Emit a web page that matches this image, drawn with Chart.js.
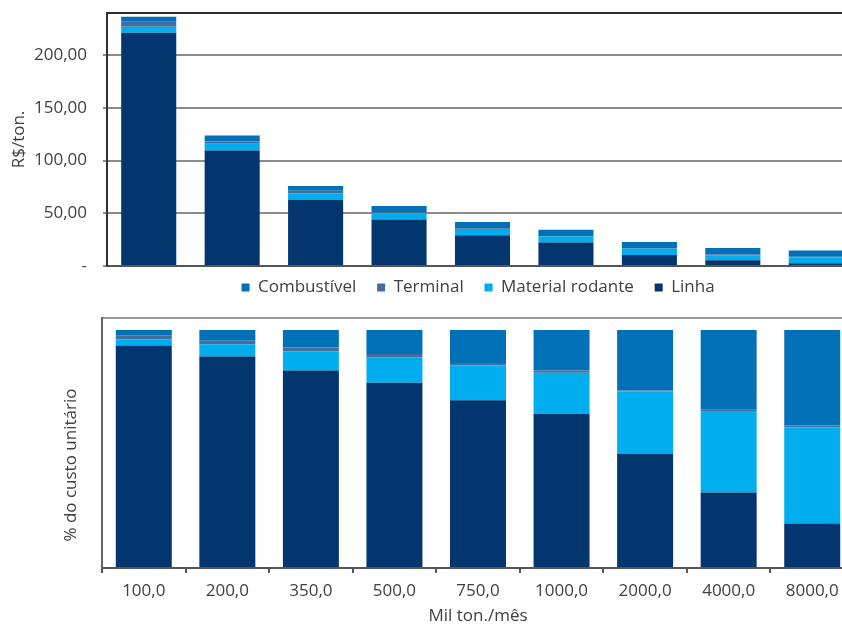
<!DOCTYPE html>
<html>
<head>
<meta charset="utf-8">
<script src="https://cdn.jsdelivr.net/npm/chart.js@4.4.1/dist/chart.umd.min.js"></script>
<style>
  html, body { margin: 0; padding: 0; background: #fff; overflow: hidden; width: 842px; height: 625px; }
  #topWrap { position: absolute; left: 0; top: 0; }
  #bottomWrap { position: absolute; left: 0; top: 300px; }
</style>
</head>
<body>
<div id="topWrap"><canvas id="costChart" width="858" height="306"></canvas></div>
<div id="bottomWrap"><canvas id="shareChart" width="854" height="325"></canvas></div>
<script>
// escala (mil ton./mês)
const categories = ['100,0', '200,0', '350,0', '500,0', '750,0', '1000,0', '2000,0', '4000,0', '8000,0'];

// custo unitário, R$/ton.
const linhaRS       = [221.3, 109.6, 62.8, 44.2, 29.2, 22.2, 10.5, 5.4, 2.7];
const materialRS    = [5.7, 6.3, 6.3, 5.8, 6.0, 5.7, 5.8, 4.8, 5.4];
const terminalRS    = [4.7, 2.2, 2.2, 1.2, 0.6, 0.5, 0.4, 0.9, 0.6];
const combustivelRS = [4.7, 5.7, 4.5, 5.6, 5.9, 6.0, 6.0, 6.0, 5.9];

// % do custo unitário
const linhaPct       = [93.5, 88.8, 82.9, 77.8, 70.5, 64.7, 48.0, 31.7, 18.7];
const materialPct    = [2.6, 5.2, 8.1, 10.7, 14.6, 17.3, 26.1, 34.2, 40.3];
const terminalPct    = [1.7, 1.4, 1.6, 1.4, 1.0, 1.0, 0.5, 0.6, 0.9];
const combustivelPct = [2.2, 4.6, 7.4, 10.1, 13.9, 17.0, 25.4, 33.5, 40.1];

const yTicksRS = [0, 50, 100, 150, 200];

const COLORS = {
  linha: '#03366F',
  material: '#00AEEF',
  terminal: '#456E9C',
  combustivel: '#0070B8'
};
const TEXT = '#404040';
const FONT = "'Open Sans', sans-serif";

function seriesSet(linha, material, terminal, combustivel, barPct) {
  const base = { barPercentage: barPct, categoryPercentage: 1, borderWidth: 0 };
  return [
    { ...base, label: 'Linha', data: linha, backgroundColor: COLORS.linha },
    { ...base, label: 'Material rodante', data: material, backgroundColor: COLORS.material },
    { ...base, label: 'Terminal', data: terminal, backgroundColor: COLORS.terminal },
    { ...base, label: 'Combustível', data: combustivel, backgroundColor: COLORS.combustivel }
  ];
}

const fmtRS = v => v === 0 ? '-' : Number(v).toFixed(2).replace('.', ',');

new Chart(document.getElementById('costChart'), {
  type: 'bar',
  data: { labels: categories, datasets: seriesSet(linhaRS, materialRS, terminalRS, combustivelRS, 0.66) },
  options: {
    responsive: false,
    animation: false,
    devicePixelRatio: 1,
    layout: { padding: { top: 13, right: 0, bottom: 0, left: 0 } },
    plugins: {
      tooltip: { enabled: false },
      legend: {
        position: 'bottom',
        fullSize: false,
        reverse: true,
        labels: {
          boxWidth: 8,
          boxHeight: 8,
          padding: 12,
          color: TEXT,
          font: { family: FONT, size: 17 },
          // um pouco mais de espaço entre os itens, como no original
          generateLabels: chart => Chart.defaults.plugins.legend.labels.generateLabels(chart)
            .map(item => ({ ...item, text: item.text + '  ' }))
        }
      }
    },
    scales: {
      x: {
        stacked: true,
        ticks: { display: false },
        grid: { drawOnChartArea: false, drawTicks: false },
        border: { color: '#555', width: 2 },
        afterFit: s => { s.height = 1; }
      },
      // moldura superior da área do gráfico
      xTop: {
        type: 'category',
        position: 'top',
        ticks: { display: false },
        grid: { drawOnChartArea: false, drawTicks: false },
        border: { color: '#2b2b2b', width: 2 },
        afterFit: s => { s.height = 0; }
      },
      y: {
        stacked: true,
        min: 0,
        max: 240,
        afterBuildTicks: s => { s.ticks = yTicksRS.map(v => ({ value: v })); },
        ticks: {
          color: TEXT,
          padding: 16,
          font: { family: FONT, size: 17 },
          callback: v => fmtRS(v)
        },
        grid: { color: '#8c8c8c', lineWidth: 2, tickLength: 4 },
        border: { color: '#333', width: 2 },
        title: {
          display: true,
          text: 'R$/ton.',
          color: TEXT,
          font: { family: FONT, size: 17 },
          padding: { top: 9, bottom: 0 }
        },
        afterFit: s => { s.width = 107; s.paddingTop = 0; }
      }
    }
  }
});

new Chart(document.getElementById('shareChart'), {
  type: 'bar',
  data: { labels: categories, datasets: seriesSet(linhaPct, materialPct, terminalPct, combustivelPct, 0.67) },
  options: {
    responsive: false,
    animation: false,
    devicePixelRatio: 1,
    layout: { padding: { top: 18, right: 0, bottom: 0, left: 0 } },
    plugins: {
      tooltip: { enabled: false },
      legend: { display: false }
    },
    scales: {
      x: {
        stacked: true,
        ticks: { color: TEXT, padding: 8, font: { family: FONT, size: 17 } },
        grid: { drawOnChartArea: false, drawTicks: true, tickLength: 5, color: '#555', lineWidth: 2 },
        border: { color: '#555', width: 2 },
        title: {
          display: true,
          text: 'Mil ton./mês',
          color: TEXT,
          font: { family: FONT, size: 17, lineHeight: 1 },
          padding: { top: 0, bottom: 0 }
        },
        afterFit: s => { s.height = 57; }
      },
      y: {
        stacked: true,
        min: 0,
        max: 105,
        afterBuildTicks: s => { s.ticks = [0, 105].map(v => ({ value: v })); },
        ticks: { display: false },
        grid: {
          color: c => c.tick && c.tick.value === 105 ? '#999' : 'rgba(0,0,0,0)',
          lineWidth: 2,
          drawTicks: false
        },
        border: { color: '#666', width: 2 },
        title: {
          display: true,
          text: '% do custo unitário          ',
          color: TEXT,
          font: { family: FONT, size: 17 },
          padding: { top: 61, bottom: 0 }
        },
        afterFit: s => { s.width = 102; }
      }
    }
  }
});
</script>
</body>
</html>
